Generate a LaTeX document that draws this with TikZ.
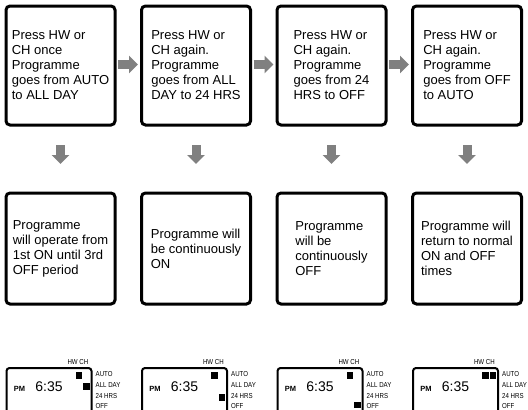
\documentclass[tikz,border=0pt]{standalone}
\usepackage{fontspec}
\setmainfont{Liberation Sans}
\newfontfamily\narrowfont[FakeStretch=0.85]{Liberation Sans}
\usetikzlibrary{arrows.meta}
\definecolor{arrowgray}{RGB}{128,128,128}
\begin{document}
\begin{tikzpicture}[x=1pt,y=-1pt,
  box/.style={draw, line width=3pt, rounded corners=4pt, minimum width=109pt,
    outer sep=0pt, inner sep=0pt, align=left, font=\fontsize{13}{15}\selectfont},
  topbox/.style={box, minimum height=119pt},
  botbox/.style={box, minimum height=111pt},
  garrow/.style={draw=arrowgray, line width=9pt, -{Triangle[length=9pt,width=17pt]}},
  lcd/.style={draw, line width=2pt, rounded corners=3pt, minimum width=85pt,
    minimum height=48pt, anchor=north west, outer sep=0pt, inner sep=0pt},
  tiny/.style={font=\narrowfont\fontsize{7.2}{7.2}\selectfont, inner sep=0pt},
  pm/.style={font=\bfseries\fontsize{7.5}{7.5}\selectfont, inner sep=0pt},
  clock/.style={font=\fontsize{14}{14}\selectfont, inner sep=0pt},
  seg/.style={fill=black}
]
\useasboundingbox (0,0) rectangle (528,410);
\clip (0,0) rectangle (528,410);

% top boxes
\node[topbox] (t1) at (60.5,65.5) {Press HW or\\CH once\\Programme\\goes from AUTO\\to ALL DAY};
\node[topbox] (t2) at (196,65.5) {Press HW or\\CH again.\\Programme\\goes from ALL\\DAY to 24 HRS};
\node[topbox] (t3) at (331.5,65.5) {Press HW or\\CH again.\\Programme\\goes from 24\\HRS to OFF};
\node[topbox] (t4) at (467,65.5) {Press HW or\\CH again.\\Programme\\goes from OFF\\to AUTO};

% bottom boxes
\node[botbox] (b1) at (60.5,248.5) {Programme\\will operate from\\1st ON until 3rd\\OFF period};
\node[botbox] (b2) at (196,248.5) {Programme will\\be continuously\\ON};
\node[botbox] (b3) at (331.5,248.5) {Programme\\will be\\continuously\\OFF};
\node[botbox] (b4) at (467,248.5) {Programme will\\return to normal\\ON and OFF\\times};

% right arrows
\draw[garrow, shorten <=3pt, shorten >=3.5pt] ([yshift=1pt]t1.east) -- ([yshift=1pt]t2.west);
\draw[garrow, shorten <=3pt, shorten >=3.5pt] ([yshift=1pt]t2.east) -- ([yshift=1pt]t3.west);
\draw[garrow, shorten <=3pt, shorten >=3.5pt] ([yshift=1pt]t3.east) -- ([yshift=1pt]t4.west);

% down arrows
\draw[garrow, shorten <=20pt, shorten >=29pt] (t1.south) -- (b1.north);
\draw[garrow, shorten <=20pt, shorten >=29pt] (t2.south) -- (b2.north);
\draw[garrow, shorten <=20pt, shorten >=29pt] (t3.south) -- (b3.north);
\draw[garrow, shorten <=20pt, shorten >=29pt] (t4.south) -- (b4.north);

% displays
\foreach \L/\hw/\ch [count=\i] in {6.5/375.5/386.5, 142/375.5/397.5, 277.5/375.5/405, 413/375.5/375.5}{
  \node[lcd] (d\i) at (\L,368) {};
  \node[tiny, anchor=east] (hwch\i) at (\L+82,362) {HW CH};
  \node[tiny, anchor=west] (auto\i) at (\L+89,374) {AUTO};
  \node[tiny, anchor=west] (allday\i) at (\L+89,385.3) {ALL DAY};
  \node[tiny, anchor=west] (hrs\i) at (\L+89,396.3) {24 HRS};
  \node[tiny, anchor=west] (off\i) at (\L+89,405.8) {OFF};
  \node[pm] (pm\i) at (\L+13,388.5) {PM};
  \node[clock] (time\i) at (\L+42.5,387) {6:35};
  \fill[seg] (\L+69,\hw-3.3) rectangle (\L+75.5,\hw+3.3);
  \fill[seg] (\L+76.7,\ch-3.3) rectangle (\L+83.2,\ch+3.3);
}
\end{tikzpicture}
\end{document}
